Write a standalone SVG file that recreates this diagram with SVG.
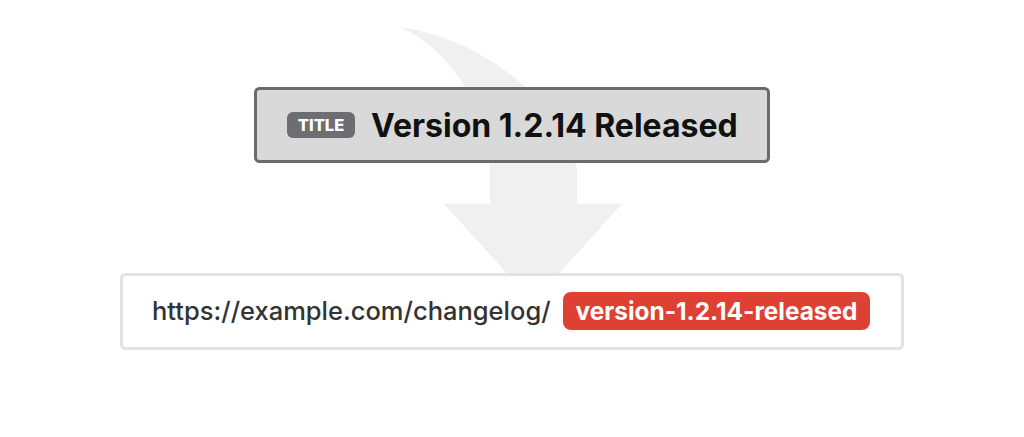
<svg xmlns="http://www.w3.org/2000/svg" width="1024" height="437" viewBox="0 0 1024 437">
<style>
.arrow{fill:#f0f0f0}
.title-box{fill:#d9d9d9;stroke:#6b6b6d;stroke-width:3}
.url-box{fill:#ffffff;stroke:#e2e2e2;stroke-width:3}
.badge-gray{fill:#6e6d72}
.badge-red{fill:#de4133}
.t{font-family:Inter,"Liberation Sans",sans-serif}
</style>
<rect width="1024" height="437" fill="#ffffff"/>
<g id="connectors">
<path class="arrow" d="M400,27 C480,38 562,100 577,170 L577,204 L622,204 L533,302 L444,204 L490,204 L490,170 C485,95 442,46 400,27 Z"/>
</g>
<g id="title-node">
<rect class="title-box" x="255.5" y="88.5" width="513" height="73" rx="4"/>
<rect class="badge-gray" x="287" y="112" width="68" height="26" rx="6"/>
<text class="t" x="321" y="131" text-anchor="middle" font-size="16.5" font-weight="800" fill="#ffffff">TITLE</text>
<text class="t" x="371" y="137" font-size="32" font-weight="700" fill="#111111">Version 1.2.14 Released</text>
</g>
<g id="url-node">
<rect class="url-box" x="121.5" y="274.5" width="781" height="74" rx="4"/>
<text class="t" x="152" y="320" font-size="25.5" font-weight="500" fill="#333333">https://example.com/changelog/</text>
<rect class="badge-red" x="563" y="292" width="307" height="38" rx="8"/>
<text class="t" x="716.5" y="320" text-anchor="middle" font-size="24.4" font-weight="700" fill="#ffffff">version-1.2.14-released</text>
</g>
</svg>
